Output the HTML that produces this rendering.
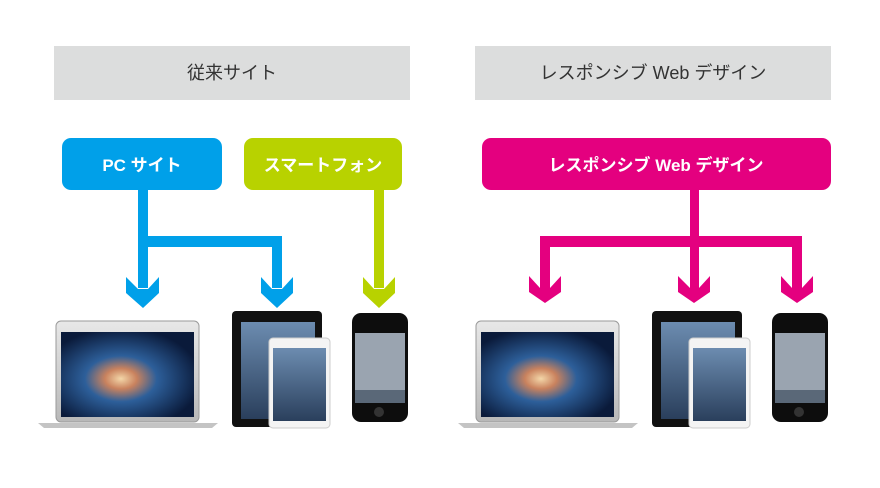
<!DOCTYPE html>
<html><head><meta charset="utf-8"><style>
body{margin:0;background:#fff;}
svg text{font-family:"Liberation Sans","Noto Sans CJK JP",sans-serif;}
</style></head><body>
<svg width="880" height="483" viewBox="0 0 880 483" xmlns="http://www.w3.org/2000/svg">
<defs>
<radialGradient id="gal" cx="0.45" cy="0.55" r="0.6">
<stop offset="0" stop-color="#f3d6a8"/><stop offset="0.2" stop-color="#c9825e"/><stop offset="0.45" stop-color="#2d5f9a"/><stop offset="1" stop-color="#0a1a3a"/></radialGradient>
<linearGradient id="ios" x1="0" y1="0" x2="0" y2="1"><stop offset="0" stop-color="#6c8cb0"/><stop offset="1" stop-color="#2a3f5c"/></linearGradient>
<linearGradient id="alu" x1="0" y1="0" x2="0" y2="1"><stop offset="0" stop-color="#e8e8e8"/><stop offset="1" stop-color="#b8b8b8"/></linearGradient>
<g id="dev">
 <!-- laptop -->
 <rect x="56" y="321" width="143" height="101" rx="5" fill="url(#alu)" stroke="#9a9a9a"/>
 <rect x="61" y="332" width="133" height="85" fill="url(#gal)"/>
 <path d="M38 423 L218 423 L212 428 L44 428 Z" fill="#c4c4c4"/>
 <!-- ipad -->
 <rect x="232" y="311" width="90" height="116" rx="4" fill="#111"/>
 <rect x="241" y="322" width="74" height="97" fill="url(#ios)"/>
 <!-- ipad mini -->
 <rect x="269" y="338" width="61" height="90" rx="4" fill="#f4f4f4" stroke="#ccc"/>
 <rect x="273" y="348" width="53" height="73" fill="url(#ios)"/>
 <!-- iphone -->
 <rect x="352" y="313" width="56" height="109" rx="9" fill="#0d0d0d"/>
 <rect x="355" y="333" width="50" height="70" fill="#9aa4b0"/>
 <rect x="355" y="390" width="50" height="13" fill="#5a6878"/>
 <circle cx="379" cy="412" r="5" fill="#333"/>
</g>
</defs>
<rect x="54" y="46" width="356" height="54" fill="#dcdddd"/>
<rect x="475" y="46" width="356" height="54" fill="#dcdddd"/>
<text x="232" y="79" font-size="18" fill="#333" text-anchor="middle">従来サイト</text>
<text x="653" y="79" font-size="18" fill="#333" text-anchor="middle">レスポンシブ Web デザイン</text>

<!-- left connectors -->
<g fill="#00a0e9">
<rect x="62" y="138" width="160" height="52" rx="9"/>
<rect x="138" y="188" width="10" height="100"/>
<rect x="138" y="236" width="144" height="11"/>
<rect x="272" y="236" width="10" height="52"/>
<polygon points="126,277 138,289 148,289 159,277 159,293 143,308 126,293"/>
<polygon points="261,277 272,289 282,289 293,277 293,293 277,308 261,293"/>
</g>
<g fill="#b8d200">
<rect x="244" y="138" width="158" height="52" rx="9"/>
<rect x="374" y="188" width="10" height="100"/>
<polygon points="363,277 374,289 384,289 395,277 395,293 379,308 363,293"/>
</g>
<text x="142" y="171" font-size="17" font-weight="bold" fill="#fff" text-anchor="middle">PC サイト</text>
<text x="323" y="171" font-size="17" font-weight="bold" fill="#fff" text-anchor="middle">スマートフォン</text>

<!-- right connectors -->
<g fill="#e4007f">
<rect x="482" y="138" width="349" height="52" rx="9"/>
<rect x="690" y="188" width="9" height="100"/>
<rect x="540" y="236" width="262" height="11"/>
<rect x="540" y="236" width="10" height="52"/>
<rect x="792" y="236" width="10" height="52"/>
<polygon points="529,276 540,288 550,288 561,276 561,292 545,303 529,292"/>
<polygon points="678,276 690,288 699,288 710,276 710,292 694,303 678,292"/>
<polygon points="781,276 792,288 802,288 813,276 813,292 797,303 781,292"/>
</g>
<text x="656" y="171" font-size="17" font-weight="bold" fill="#fff" text-anchor="middle">レスポンシブ Web デザイン</text>

<use href="#dev"/>
<use href="#dev" transform="translate(420,0)"/>
</svg>
</body></html>
